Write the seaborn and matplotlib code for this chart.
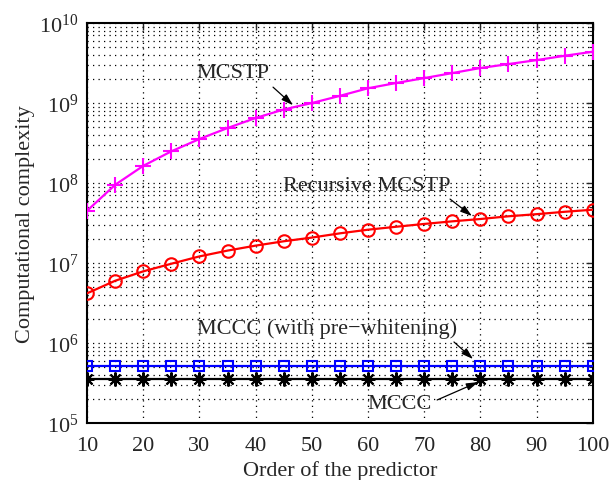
import numpy as np
import pandas as pd
import matplotlib
matplotlib.use("Agg")
import matplotlib.pyplot as plt
import seaborn as sns
from matplotlib.ticker import FixedLocator, LogLocator, NullFormatter

# Predictor order (x axis)
order = [10, 15, 20, 25, 30, 35, 40, 45, 50, 55, 60, 65, 70, 75, 80, 85, 90, 95, 100]

# Computational complexity of each method
mcstp = [4.5e7, 9.5e7, 1.64e8, 2.49e8, 3.55e8, 4.87e8, 6.5e8, 8.3e8, 1.0e9, 1.23e9,
         1.53e9, 1.78e9, 2.05e9, 2.37e9, 2.74e9, 3.07e9, 3.44e9, 3.9e9, 4.38e9]
recursive_mcstp = [4.18e6, 6.0e6, 7.87e6, 9.8e6, 1.21e7, 1.43e7, 1.65e7, 1.87e7, 2.08e7,
                   2.35e7, 2.61e7, 2.84e7, 3.08e7, 3.32e7, 3.55e7, 3.84e7, 4.08e7, 4.37e7, 4.64e7]
mccc_pw = [5.1e5] * len(order)
mccc = [3.55e5] * len(order)

xticks = [10, 20, 30, 40, 50, 60, 70, 80, 90, 100]

sns.set_style("white")
plt.rcParams["font.family"] = ["Liberation Serif", "DejaVu Serif"]
plt.rcParams["mathtext.fontset"] = "custom"
plt.rcParams["mathtext.rm"] = "Liberation Serif"
plt.rcParams["mathtext.it"] = "Liberation Serif:italic"

fig = plt.figure(figsize=(6.13, 4.81), dpi=100)
ax = fig.add_axes([0.142, 0.1185, 0.825, 0.8315])

df = pd.DataFrame({
    "order": order,
    "mcstp": mcstp,
    "recursive": recursive_mcstp,
    "mccc_pw": mccc_pw,
    "mccc": mccc,
})

# asterisk marker: 8 thin arms
asterisk = (8, 2, 0)
series = [
    ("mcstp", "#ff00ff", "+", dict(markersize=11, markerfacecolor="none")),
    ("recursive", "#ff0000", "o", dict(markersize=9, markerfacecolor="none")),
    ("mccc_pw", "#0000ff", "s", dict(markersize=7, markerfacecolor="none")),
    ("mccc", "#000000", asterisk, dict(markersize=10)),
]
for col, color, mk, extra in series:
    sns.lineplot(data=df, x="order", y=col, ax=ax, color=color, marker=mk,
                 markeredgecolor=color, markeredgewidth=1.5, linewidth=1.6,
                 zorder=3, **extra)

ax.set_yscale("log")
ax.set_xlim(10, 100)
ax.set_ylim(1e5, 1e10)
ax.xaxis.set_major_locator(FixedLocator(xticks))
ax.yaxis.set_major_locator(LogLocator(base=10, numticks=10))
ax.yaxis.set_minor_locator(LogLocator(base=10, subs=np.arange(2, 10), numticks=20))
ax.yaxis.set_minor_formatter(NullFormatter())

# dotted grid
gkw = dict(color="black", linewidth=0.9, linestyle=(0, (1.0, 3.4)))
ax.grid(True, which="major", axis="both", **gkw)
ax.grid(True, which="minor", axis="y", **gkw)

ax.tick_params(which="both", direction="in", top=True, right=True, labelsize=16)
ax.tick_params(axis="x", pad=9)
ax.tick_params(axis="y", pad=6)
ax.tick_params(which="major", length=5, width=1.0)
ax.tick_params(which="minor", length=3, width=0.8)
for s in ax.spines.values():
    s.set_linewidth(1.5)
    s.set_color("black")

ax.set_xlabel("Order of the predictor", fontsize=16, labelpad=4)
ax.set_ylabel("Computational complexity", fontsize=16, labelpad=3)

arrow = dict(arrowstyle="-|>,head_length=0.7,head_width=0.22", color="black",
             lw=0.9, shrinkA=0, shrinkB=0)
labels = [
    ("MCSTP", (36.0, 2.44e9), (43.1, 1.58e9), (46.65, 9.4e8)),
    ("Recursive MCSTP", (59.8, 9.4e7), (74.6, 6.3e7), (78.5, 3.87e7)),
    ("MCCC (with pre\u2212whitening)", (52.7, 1.54e6), (75.3, 1.03e6), (78.7, 6.3e5)),
    ("MCCC", (65.7, 1.73e5), (72.3, 1.94e5), (79.6, 3.25e5)),
]
for txt, tpos, tail, head in labels:
    ax.text(tpos[0], tpos[1], txt, fontsize=16, ha="center", va="center", zorder=4)
    ax.annotate("", xy=head, xytext=tail, arrowprops=arrow, zorder=4)

fig.savefig("out.png", dpi=100)
